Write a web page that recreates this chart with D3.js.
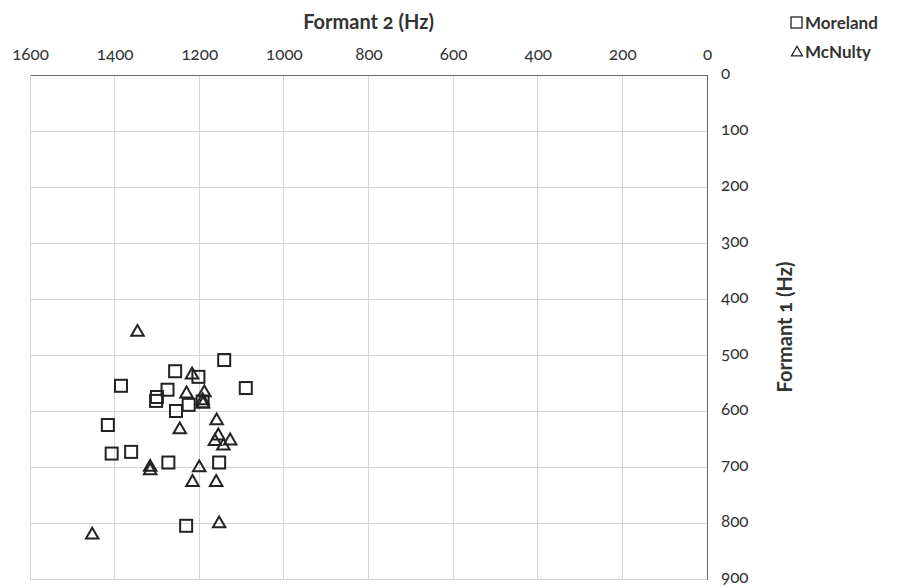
<!DOCTYPE html>
<html><head><meta charset="utf-8">
<script src="https://cdn.jsdelivr.net/npm/d3@7"></script>
<style>
body{margin:0;background:#fff;}
svg{display:block;font-family:Lato,"Open Sans",sans-serif;}
.num{font-variant-numeric:oldstyle-nums;font-feature-settings:"onum" 1;}
</style></head><body>
<svg id="c" width="900" height="587"></svg>
<script>
const xTicks = [1600,1400,1200,1000,800,600,400,200,0];
const yTicks = [0,100,200,300,400,500,600,700,800,900];
const morelandF2 = [1141,1257,1202,1385,1090,1275,1300,1302,1255,1225,1192,1416,1407,1361,1273,1153,1231];
const morelandF1 = [509,529,539,555,559,562,575,582,600,589,583,625,676,673,692,692,805];
const mcnultyF2 = [1346,1217,1230,1188,1192,1191,1246,1159,1155,1163,1127,1143,1316,1316,1200,1216,1160,1153,1453];
const mcnultyF1 = [458,534,568,566,580,586,632,616,643,653,652,661,699,705,700,726,726,800,820];
const seriesNames = ["Moreland","McNulty"];

const svg = d3.select("#c");
const L=30,R=707,T=75,B=579;
const x = d3.scaleLinear().domain([1600,0]).range([L,R]);
const y = d3.scaleLinear().domain([0,900]).range([T,B]);

// grid
svg.append("g").selectAll("line").data(xTicks).join("line")
  .attr("x1",d=>x(d)).attr("x2",d=>x(d)).attr("y1",T).attr("y2",B)
  .attr("stroke","#d4d4d4").attr("stroke-width",1).attr("shape-rendering","crispEdges");
svg.append("g").selectAll("line").data(yTicks).join("line")
  .attr("x1",L).attr("x2",R).attr("y1",d=>y(d)).attr("y2",d=>y(d))
  .attr("stroke","#d4d4d4").attr("stroke-width",1).attr("shape-rendering","crispEdges");

// axes
const xAxis = d3.axisTop(x).tickValues(xTicks).tickSize(0).tickPadding(15).tickFormat(d3.format("d"));
const gx = svg.append("g").attr("transform",`translate(0,${T})`).call(xAxis);
const yAxis = d3.axisRight(y).tickValues(yTicks).tickSize(0).tickPadding(14).tickFormat(d3.format("d"));
const gy = svg.append("g").attr("transform",`translate(${R},0)`).call(yAxis);
[gx,gy].forEach(g=>{
  g.select(".domain").attr("stroke","#666").attr("stroke-width",1).attr("shape-rendering","crispEdges");
  g.selectAll("text").attr("class","num").attr("font-size",17).attr("fill","#333")
   .attr("font-family","Lato,'Open Sans',sans-serif");
});
gy.selectAll("text").attr("dy","0.22em");

// titles
svg.append("text").attr("x",(L+R)/2).attr("y",29).attr("text-anchor","middle")
  .attr("font-size",20).attr("font-weight","bold").attr("fill","#333").attr("class","num")
  .text("Formant 2 (Hz)");
svg.append("text").attr("transform",`translate(792,${(T+B)/2}) rotate(-90)`).attr("text-anchor","middle")
  .attr("font-size",20).attr("font-weight","bold").attr("fill","#333").attr("class","num")
  .text("Formant 1 (Hz)");

// markers
const sq = 12;
const moreland = morelandF2.map((v,i)=>({f2:v,f1:morelandF1[i]}));
const mcnulty = mcnultyF2.map((v,i)=>({f2:v,f1:mcnultyF1[i]}));
svg.append("g").selectAll("rect").data(moreland).join("rect")
  .attr("x",d=>x(d.f2)-sq/2).attr("y",d=>y(d.f1)-sq/2).attr("width",sq).attr("height",sq)
  .attr("fill","none").attr("stroke","#222").attr("stroke-width",2);
const tri = (cx,cy,s)=>{const h=s*0.87;return `M${cx},${cy-h*0.6}L${cx+s/2},${cy+h*0.4}L${cx-s/2},${cy+h*0.4}Z`;};
svg.append("g").selectAll("path").data(mcnulty).join("path")
  .attr("d",d=>tri(x(d.f2),y(d.f1),12.5))
  .attr("fill","none").attr("stroke","#222").attr("stroke-width",2).attr("stroke-linejoin","miter");

// legend
const lg = svg.append("g");
lg.append("rect").attr("x",791).attr("y",17).attr("width",11).attr("height",11)
  .attr("fill","none").attr("stroke","#222").attr("stroke-width",1.3);
lg.append("text").attr("x",805).attr("y",29).attr("font-size",17).attr("font-weight","bold").attr("fill","#333").text(seriesNames[0]);
lg.append("path").attr("d",tri(797,52,11)).attr("fill","none").attr("stroke","#222").attr("stroke-width",1.3);
lg.append("text").attr("x",805).attr("y",58).attr("font-size",17).attr("font-weight","bold").attr("fill","#333").text(seriesNames[1]);
</script></body></html>
